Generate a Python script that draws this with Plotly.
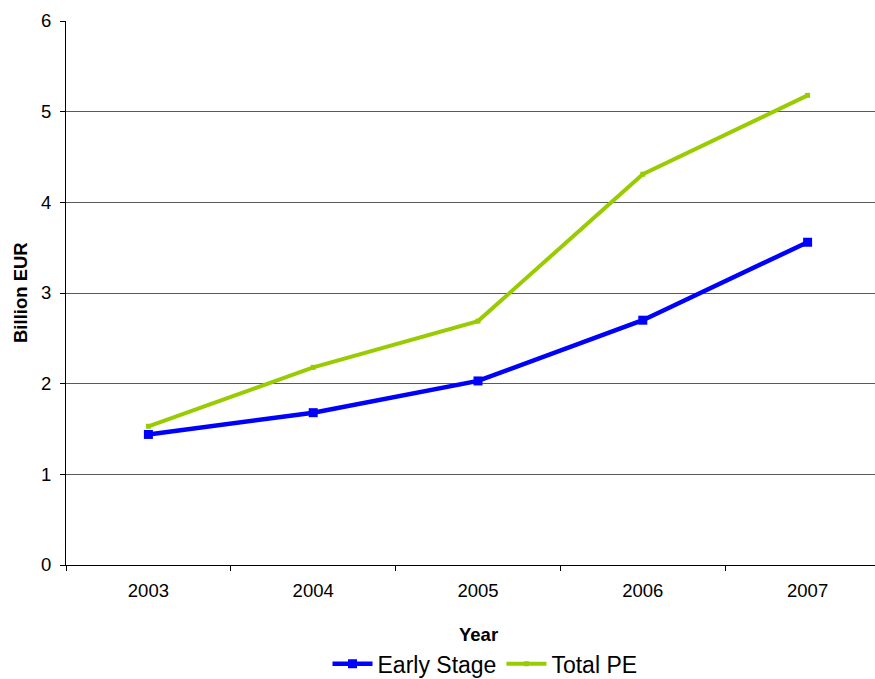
import plotly.graph_objects as go

# Investment volumes by year (billion EUR)
years = ["2003", "2004", "2005", "2006", "2007"]
early_stage = [1.44, 1.68, 2.03, 2.70, 3.56]
total_pe = [1.53, 2.18, 2.69, 4.31, 5.18]

FONT = "Arial, Liberation Sans, sans-serif"
W, H = 875, 679
L, T, B, R = 66, 20.5, 114, 0
cat_w = 164.8  # pixel width of one year slot
plot_w = W - L - R
plot_h = H - T - B

fig = go.Figure()
fig.add_trace(go.Scatter(
    x=years, y=early_stage, name="Early Stage", mode="lines+markers",
    line=dict(color="#0000FF", width=4.5),
    marker=dict(symbol="square", size=9, color="#0000FF"),
))
fig.add_trace(go.Scatter(
    x=years, y=total_pe, name="Total PE", mode="lines+markers",
    line=dict(color="#99CC00", width=4),
    marker=dict(symbol="square", size=5, color="#99CC00"),
))

fig.update_layout(
    width=W, height=H,
    margin=dict(l=L, r=R, t=T, b=B, pad=0, autoexpand=False),
    paper_bgcolor="white", plot_bgcolor="white",
    font=dict(family=FONT, size=18.5, color="black"),
    showlegend=True,
    legend=dict(
        orientation="h", x=(485 - L) / plot_w, xanchor="center",
        y=(565 - 664) / plot_h, yanchor="middle",
        font=dict(size=23), itemwidth=40, tracegroupgap=0,
    ),
    xaxis=dict(
        type="category", range=[-0.5, -0.5 + plot_w / cat_w],
        showline=True, linecolor="black", linewidth=1,
        ticks="outside", ticklen=5, tickcolor="black", tickson="boundaries",
        showgrid=False, zeroline=False, ticklabelstandoff=9,
        tickfont=dict(size=18.5), automargin=False,
    ),
    yaxis=dict(
        range=[0, 6], dtick=1, tick0=0,
        showline=True, linecolor="black", linewidth=1,
        ticks="outside", ticklen=5, tickcolor="black",
        showgrid=True, gridcolor="#5a5a5a", gridwidth=1,
        zeroline=False, ticklabelstandoff=5,
        tickfont=dict(size=18.5), automargin=False,
    ),
    annotations=[
        # category index 2 is the 2005 slot
        dict(text="<b>Year</b>", xref="x", yref="paper", x=2,
             y=(565 - 634.6) / plot_h, xanchor="center", yanchor="middle",
             showarrow=False, font=dict(size=18.5)),
        dict(text="<b>Billion EUR</b>", xref="paper", yref="paper",
             x=(20 - L) / plot_w, y=0.5, xanchor="center", yanchor="middle",
             textangle=-90, showarrow=False, font=dict(size=18.5)),
    ],
)

fig.write_html("out.html")
